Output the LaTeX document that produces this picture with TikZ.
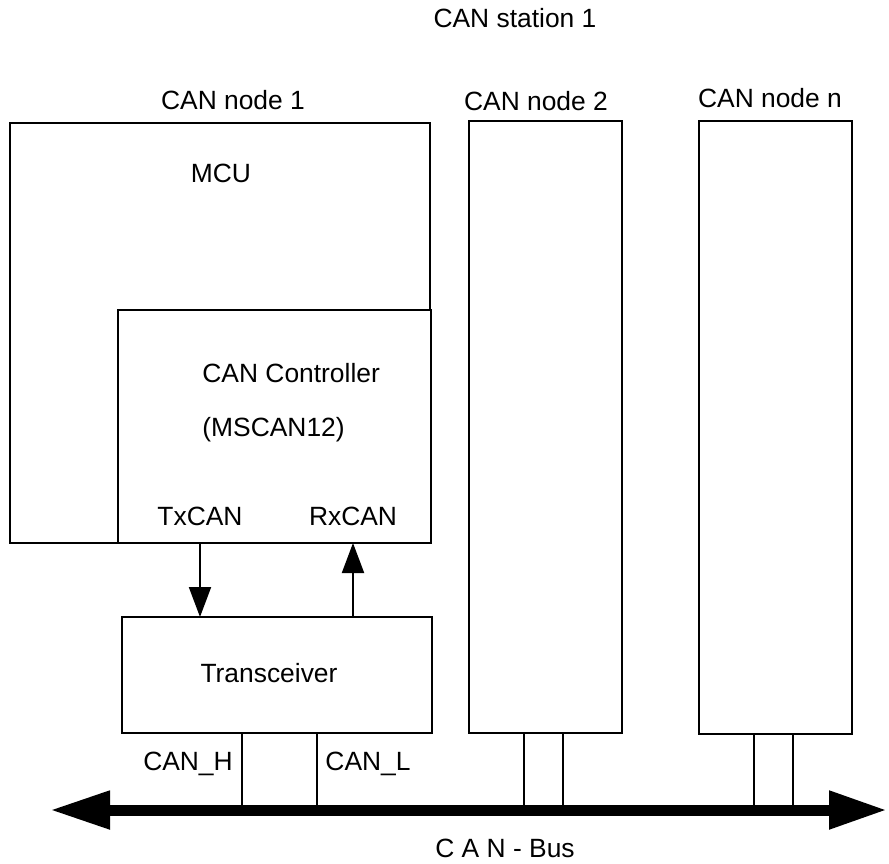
\documentclass[tikz,border=0pt]{standalone}
\usepackage{fontspec}
\setmainfont{Liberation Sans}
\usepackage{tikz}
\usetikzlibrary{positioning,arrows.meta}

\begin{document}
\begin{tikzpicture}[
  x=0.5pt, y=-0.5pt,
  box/.style={rectangle, draw, line width=1pt, fill=white, inner sep=0pt,
              outer sep=0pt, anchor=north west},
  lbl/.style={font=\fontsize{13.2}{15}\selectfont, inner sep=0pt},
  ar/.style={-{Triangle[length=15pt,width=11pt]}, line width=1pt},
  tap/.style={line width=1pt},
  bus/.style={{Triangle[length=30pt,width=18pt]}-{Triangle[length=29pt,width=18pt]},
              line width=5.5pt},
]
\useasboundingbox (0,0) rectangle (889,863);

\node[lbl] (station) at (515,18) {CAN station 1};

\node[box, minimum width=210pt, minimum height=210pt] (mcu) at (10,123) {};
\node[box, minimum width=156.5pt, minimum height=116.5pt] (ctrl) at (118,310) {};
\node[box, minimum width=155pt, minimum height=58pt] (trx) at (122,617) {};
\node[box, minimum width=76.5pt, minimum height=306pt] (node2) at (469,121) {};
\node[box, minimum width=76.5pt, minimum height=306.5pt] (noden) at (699,121) {};

\node[lbl] (lnode1) at (233,100) {CAN node 1};
\node[lbl] (lnode2) at (536,101) {CAN node 2};
\node[lbl] (lnoden) at (770,98) {CAN node n};

\node[lbl] (lmcu) at (221,173) {MCU};
\node[lbl, anchor=west] (lctrl) at (202,373) {CAN Controller};
\node[lbl, anchor=west] (lmscan) at (202,430) {(MSCAN12)};
\node[lbl] (tx) at (200,516) {TxCAN};
\node[lbl] (rx) at (353,516) {RxCAN};
\node[lbl] (ltrx) at (269,673) {Transceiver};

\draw[ar] (tx |- ctrl.south) -- (tx |- trx.north);
\draw[ar] (rx |- trx.north) -- (rx |- ctrl.south);

\coordinate (busW) at (50,810);
\coordinate (busE) at (887,810);

\node[lbl] (canh) at (188,764) {CAN\_H};
\node[lbl] (canl) at (368,764) {CAN\_L};

\foreach \x in {242,317}
  \draw[tap] (trx.south -| \x,0) -- (busW -| \x,0);
\foreach \x in {524,563}
  \draw[tap] (node2.south -| \x,0) -- (busW -| \x,0);
\foreach \x in {754,793}
  \draw[tap] (noden.south -| \x,0) -- (busW -| \x,0);

\draw[bus] (busW) -- (busE);

\node[lbl] (lbus) at (505,848) {C A N - Bus};
\end{tikzpicture}
\end{document}
